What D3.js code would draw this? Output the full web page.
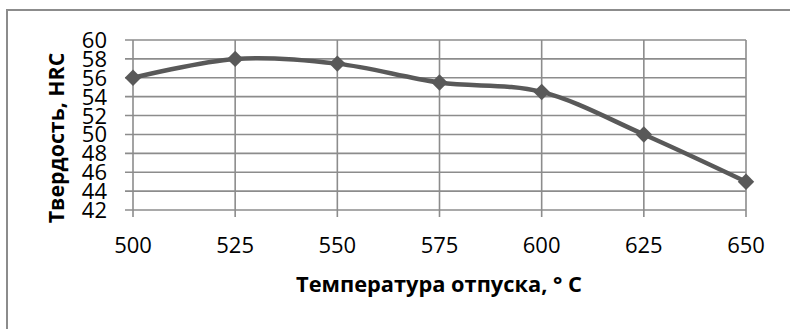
<html><head>
<meta charset="utf-8">
<script src="https://d3js.org/d3.v7.min.js"></script>
<style>
  body { margin: 0; background: #fff; }
  text { font-family: "Open Sans", sans-serif; fill: #000; }
</style>
</head>
<body>
<svg id="chart" width="790" height="329"></svg>
<script>
  // data
  const temps = [500, 525, 550, 575, 600, 625, 650];
  const hardness = [56, 58, 57.5, 55.5, 54.5, 50, 45];
  const yTicks = [42, 44, 46, 48, 50, 52, 54, 56, 58, 60];
  const xTitle = "Температура отпуска, ° С";
  const yTitle = "Твердость, HRC";

  const svg = d3.select("#chart");
  const grid = "#8c8c8c";

  // outer frame (right and bottom run off the picture)
  svg.append("rect")
     .attr("x", 7).attr("y", 10)
     .attr("width", 800).attr("height", 340)
     .attr("fill", "none").attr("stroke", grid).attr("stroke-width", 2);

  const x = d3.scaleLinear().domain([500, 650]).range([133, 746]);
  const y = d3.scaleLinear().domain([42, 60]).range([210, 40]);

  let g = svg.append("g");

  // horizontal gridlines (with little tick stubs on the left)
  g.selectAll("line.h").data(yTicks)
   .join("line").attr("class", "h")
   .attr("x1", 125).attr("x2", x(650))
   .attr("y1", d => y(d)).attr("y2", d => y(d))
   .attr("stroke", grid).attr("stroke-width", 1.6);

  // vertical gridlines (with tick stubs below)
  g.selectAll("line.v").data(temps)
   .join("line").attr("class", "v")
   .attr("x1", d => x(d)).attr("x2", d => x(d))
   .attr("y1", y(60)).attr("y2", 217)
   .attr("stroke", grid).attr("stroke-width", 1.6);

  // tick labels (packed tight, like the original)
  g.selectAll("text.yl").data(yTicks)
   .join("text").attr("class", "yl")
   .attr("x", 107).attr("y", d => y(d) + 8)
   .attr("text-anchor", "end")
   .attr("font-size", 22)
   .text(d => d);

  g.selectAll("text.xl").data(temps)
   .join("text").attr("class", "xl")
   .attr("x", d => x(d)).attr("y", 253)
   .attr("text-anchor", "middle")
   .attr("font-size", 22)
   .text(d => d);

  // axis titles
  svg.append("text")
     .attr("x", 439).attr("y", 292)
     .attr("text-anchor", "middle")
     .attr("font-size", 21.8).attr("font-weight", "bold")
     .text(xTitle);

  svg.append("text")
     .attr("transform", "translate(64,138) rotate(-90)")
     .attr("text-anchor", "middle")
     .attr("font-size", 21.3).attr("font-weight", "bold")
     .text(yTitle);

  // the smoothed series line
  const pts = temps.map((t, i) => [t, hardness[i]]);
  const line = d3.line()
                 .x(d => x(d[0]))
                 .y(d => y(d[1]))
                 .curve(d3.curveCardinal.tension(0));

  svg.append("path")
     .datum(pts)
     .attr("d", line)
     .attr("fill", "none")
     .attr("stroke", "#595959")
     .attr("stroke-width", 4.5)
     .attr("stroke-linejoin", "round");

  // diamond markers
  svg.selectAll("path.marker").data(pts)
     .join("path").attr("class", "marker")
     .attr("d", d3.symbol().type(d3.symbolSquare).size(135))
     .attr("transform", d => `translate(${x(d[0])},${y(d[1])}) rotate(45)`)
     .attr("fill", "#595959");
</script>
</body>
</html>
